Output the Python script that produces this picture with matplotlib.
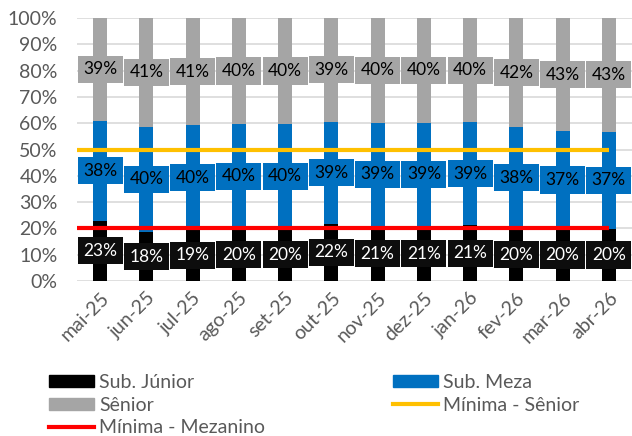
import matplotlib.pyplot as plt
import numpy as np
from matplotlib.patches import Patch
from matplotlib.lines import Line2D

plt.rcParams['font.family'] = ['Lato', 'DejaVu Sans']

meses = ["mai-25", "jun-25", "jul-25", "ago-25", "set-25", "out-25",
         "nov-25", "dez-25", "jan-26", "fev-26", "mar-26", "abr-26"]
junior = [23.0, 18.6, 19.4, 19.9, 20.0, 21.8, 20.9, 20.9, 21.2, 20.0, 19.8, 19.8]
meza = [38.0, 40.0, 39.8, 39.8, 39.7, 38.8, 39.3, 39.3, 39.2, 38.4, 37.2, 37.0]
senior = [100 - j - m for j, m in zip(junior, meza)]
lbl_junior = [23, 18, 19, 20, 20, 22, 21, 21, 21, 20, 20, 20]
lbl_meza = [38, 40, 40, 40, 40, 39, 39, 39, 39, 38, 37, 37]
lbl_senior = [39, 41, 41, 40, 40, 39, 40, 40, 40, 42, 43, 43]
min_senior = 50
min_mezanino = 20

c_jun = "#000000"
c_meza = "#0070C0"
c_sen = "#A5A5A5"
c_txt = "#595959"

fig = plt.figure(figsize=(6.32, 4.36), dpi=100)
ax = fig.add_axes([77 / 632, 1 - 281 / 436, 555 / 632, 263 / 436])

x = np.arange(len(meses))
w = 0.3
j = np.array(junior)
m = np.array(meza)
s = np.array(senior)
ax.bar(x, j, w, color=c_jun, zorder=2)
ax.bar(x, m, w, bottom=j, color=c_meza, zorder=2)
ax.bar(x, s, w, bottom=j + m, color=c_sen, zorder=2)

ax.plot([-0.5, x[-1]], [min_senior, min_senior], color="#FFC000", lw=3, zorder=3,
        solid_capstyle="butt")
ax.plot([-0.5, x[-1]], [min_mezanino, min_mezanino], color="#FF0000", lw=3, zorder=3,
        solid_capstyle="butt")

fs_lbl = 12.5
pad = "square,pad=0.32"
for i in x:
    ax.text(i, j[i] / 2, f"{lbl_junior[i]}%", ha="center", va="center", fontsize=fs_lbl,
            color="white", zorder=5,
            bbox=dict(boxstyle=pad, fc="#0D0D0D", ec="none"))
    ax.text(i, j[i] + m[i] / 2, f"{lbl_meza[i]}%", ha="center", va="center", fontsize=fs_lbl,
            color="black", zorder=5,
            bbox=dict(boxstyle=pad, fc=c_meza, ec="none"))
    ax.text(i, j[i] + m[i] + s[i] / 2, f"{lbl_senior[i]}%", ha="center", va="center",
            fontsize=fs_lbl, color="black", zorder=5,
            bbox=dict(boxstyle=pad, fc=c_sen, ec="none"))

ax.set_xlim(-0.5, 11.5)
ax.set_ylim(0, 100)
ax.set_yticks(range(0, 101, 10))
ax.set_yticklabels([f"{v}%" for v in range(0, 101, 10)], fontsize=14, color=c_txt)
ax.set_xticks(x)
ax.set_xticklabels(meses, rotation=45, ha="right", rotation_mode="anchor",
                   fontsize=14, color=c_txt)
ax.tick_params(axis="y", length=0, pad=14)
ax.tick_params(axis="x", length=0, pad=6)
ax.yaxis.grid(True, color="#D9D9D9", lw=1.2, zorder=0)
ax.set_axisbelow(True)
for sp in ax.spines.values():
    sp.set_visible(False)

handles = [Patch(color=c_jun), Patch(color=c_sen),
           Line2D([], [], color="#FF0000", lw=3),
           Patch(color=c_meza), Line2D([], [], color="#FFC000", lw=3)]
labels = ["Sub. Júnior", "Sênior", "Mínima - Mezanino", "Sub. Meza", "Mínima - Sênior"]
leg = fig.legend(handles, labels, ncol=2, loc="upper left", bbox_to_anchor=(0.078, 0.142),
                 frameon=False, fontsize=14, handlelength=2.3, handleheight=0.55,
                 labelspacing=0.28, columnspacing=6.6, handletextpad=0.25,
                 borderaxespad=0, borderpad=0)
for t in leg.get_texts():
    t.set_color(c_txt)

fig.savefig("out.png", dpi=100)
